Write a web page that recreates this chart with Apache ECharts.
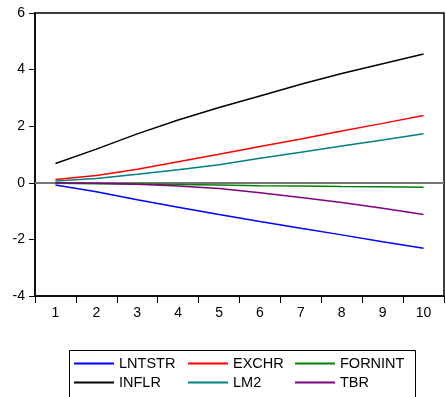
<!DOCTYPE html>
<html>
<head>
<meta charset="utf-8">
<script src="https://cdn.jsdelivr.net/npm/echarts@6/dist/echarts.min.js"></script>
<style>
  html, body { margin: 0; padding: 0; background: #fff; }
  #chart { width: 446px; height: 397px; }
</style>
</head>
<body>
<div id="chart"></div>
<script>
///////////////////////////////////////////////////
// Used data
///////////////////////////////////////////////////

var periods = ['1', '2', '3', '4', '5', '6', '7', '8', '9', '10'];
var yTicks = [-4, -2, 0, 2, 4, 6];

var lntstr = [-0.08, -0.32, -0.6, -0.86, -1.12, -1.37, -1.61, -1.84, -2.08, -2.31];
var exchr = [0.12, 0.26, 0.48, 0.74, 1.01, 1.28, 1.55, 1.83, 2.1, 2.38];
var fornint = [-0.02, -0.03, -0.04, -0.06, -0.08, -0.1, -0.11, -0.13, -0.14, -0.16];
var inflr = [0.68, 1.19, 1.73, 2.22, 2.66, 3.07, 3.48, 3.86, 4.21, 4.55];
var lm2 = [0.06, 0.15, 0.3, 0.46, 0.64, 0.87, 1.08, 1.3, 1.51, 1.73];
var tbr = [0.0, -0.02, -0.05, -0.11, -0.2, -0.35, -0.52, -0.7, -0.9, -1.12];

///////////////////////////////////////////////////
// Chart
///////////////////////////////////////////////////

var font = '"Liberation Sans", Arial, sans-serif';

function line(name, data, color) {
  return {
    name: name,
    type: 'line',
    data: data,
    symbol: 'none',
    smooth: false,
    lineStyle: { color: color, width: 1.5 },
    itemStyle: { color: color },
    z: 3,
  };
}

function legendCol(left, names) {
  return {
    orient: 'vertical',
    left: left,
    top: 356,
    padding: 0,
    data: names,
    icon: 'rect',
    itemWidth: 40,
    itemHeight: 2,
    itemGap: 4,
    selectedMode: false,
    textStyle: { fontFamily: font, fontSize: 14.5, color: '#000' },
  };
}

var series = [
  line('LNTSTR', lntstr, '#0000ff'),
  line('EXCHR', exchr, '#ff0000'),
  line('FORNINT', fornint, '#008000'),
  line('INFLR', inflr, '#000000'),
  line('LM2', lm2, '#008080'),
  line('TBR', tbr, '#800080'),
];
// zero reference line
series[0].markLine = {
  silent: true,
  symbol: 'none',
  label: { show: false },
  lineStyle: { color: '#777', width: 2, type: 'solid' },
  data: [{ yAxis: 0 }],
  z: 1,
};

var option = {
  animation: false,
  grid: {
    left: 35,
    right: 2,
    top: 13,
    bottom: 101,
    show: true,
    borderColor: '#000',
    borderWidth: 1.5,
  },
  xAxis: {
    type: 'category',
    data: periods,
    boundaryGap: true,
    axisLine: { onZero: false, lineStyle: { color: '#000', width: 1.5 } },
    axisTick: { show: true, length: 7, lineStyle: { color: '#000' } },
    axisLabel: { color: '#000', fontFamily: font, fontSize: 14, margin: 10 },
    splitLine: { show: false },
  },
  yAxis: {
    type: 'value',
    min: yTicks[0],
    max: yTicks[yTicks.length - 1],
    interval: 2,
    axisLine: { show: true, lineStyle: { color: '#000', width: 1.5 } },
    axisTick: { show: true, length: 6, lineStyle: { color: '#000' } },
    axisLabel: { color: '#000', fontFamily: font, fontSize: 14, margin: 10 },
    splitLine: { show: false },
  },
  legend: [
    legendCol(74, ['LNTSTR', 'INFLR']),
    legendCol(188, ['EXCHR', 'LM2']),
    legendCol(295, ['FORNINT', 'TBR']),
  ],
  graphic: [
    {
      type: 'rect',
      left: 67,
      top: 348,
      shape: { width: 346, height: 47 },
      style: { fill: 'none', stroke: '#000', lineWidth: 1 },
    },
  ],
  series: series,
};

var myChart = echarts.init(document.getElementById('chart'), null, { renderer: 'canvas' });
myChart.setOption(option);
</script>
</body>
</html>
